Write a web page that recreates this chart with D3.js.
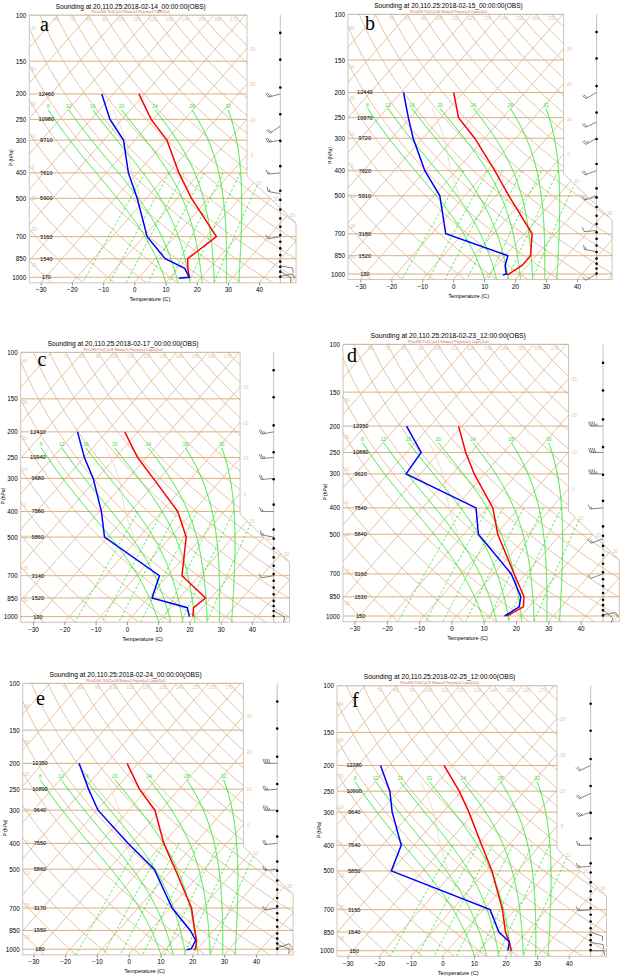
<!DOCTYPE html>
<html>
<head>
<meta charset="utf-8">
<script src="https://cdn.jsdelivr.net/npm/d3@7.9.0/dist/d3.min.js"></script>
<style>
body { margin: 0; background: #fff; }
svg { display: block; font-family: "Liberation Sans", Arial, sans-serif; }
</style>
</head>
<body>
<svg id="chart" width="624" height="979"></svg>
<script>
// ---- data ----
const pLabels = [100, 150, 200, 250, 300, 400, 500, 700, 850, 1000];
const tempTicks = [-30, -20, -10, 0, 10, 20, 30, 40];
const hLevels = [200, 250, 300, 400, 500, 700, 850, 1000];
const thetaW = [8, 12, 16, 20, 24, 28, 32];          // moist adiabats (C)
const mixRatios = [1, 2, 3, 5, 8, 12, 20];            // g/kg
const isoTemps = d3.range(-140, 60, 10);
const dryThetas = d3.range(-40, 210, 10);
const dotLevels = [117, 148, 189, 239, 302, 377, 468, 507, 552, 597, 642, 690, 732, 776, 823, 872, 912, 952, 995];
// faint light curve seen at the same place in every panel
const faintP = [230, 300, 400, 500];
const faintT = [-55.6, -43.0, -31.7, -21.8];

const letters = ['a', 'b', 'c', 'd', 'e', 'f'];
const titles = [
  'Sounding at 20,110.25:2018-02-14_00:00:00(OBS)',
  'Sounding at 20,110.25:2018-02-15_00:00:00(OBS)',
  'Sounding at 20,110.25:2018-02-17_00:00:00(OBS)',
  'Sounding at 20,110.25:2018-02-23_12:00:00(OBS)',
  'Sounding at 20,110.25:2018-02-24_00:00:00(OBS)',
  'Sounding at 20,110.25:2018-02-25_12:00:00(OBS)'
];
const subtitles = [
  'Plcl=1000 Tlcl(C)=13 Show=14 Pw(cm)=3 Cape(J)=0',
  'Plcl=990 Tlcl(C)=16 Show=3 Pw(cm)=3 Cape(J)=0',
  'Plcl=980 Tlcl(C)=18 Show=11 Pw(cm)=3 Cape(J)=0',
  'Plcl=985 Tlcl(C)=14 Show=1 Pw(cm)=5 Cape(J)=0',
  'Plcl=1000 Tlcl(C)=18 Show=2 Pw(cm)=4 Cape(J)=0',
  'Plcl=985 Tlcl(C)=19 Show=4 Pw(cm)=4 Cape(J)=0'
];

const heightsA = [12460, 10980, 9710, 7610, 5900, 3160, 1540, 170];
const heightsB = [12440, 10970, 9720, 7620, 5910, 3180, 1520, 130];
const heightsC = [12410, 10940, 9680, 7580, 5860, 3140, 1520, 130];
const heightsD = [12350, 10880, 9620, 7540, 5840, 3160, 1530, 150];
const heightsE = [12350, 10890, 9640, 7550, 5860, 3170, 1550, 180];
const heightsF = [12380, 10900, 9640, 7540, 5850, 3150, 1540, 150];

const pressA = [200, 250, 300, 400, 500, 700, 850, 925, 1000, 1009];
const tempA  = [-51.8, -40.7, -29.8, -16.7, -5.5, 13.3, 10.3, 13.1, 16.1, 16.4];
const dewA   = [-63.7, -53.9, -43.7, -32.9, -22.9, -8.9, 3.1, 12.1, 16.0, 13.0];

const pressB = [200, 250, 300, 400, 500, 700, 850, 925, 1000, 1008];
const tempB  = [-53.0, -44.3, -33.2, -17.5, -5.8, 12.5, 18.2, 18.3, 16.4, 16.0];
const dewB   = [-69.2, -60.5, -53.1, -40.1, -28.1, -15.4, 10.9, 12.7, 15.6, 14.8];

const pressC = [200, 250, 300, 400, 500, 700, 850, 925, 1000];
const tempC  = [-54.2, -42.9, -32.0, -14.9, -5.0, 4.5, 18.3, 17.2, 19.5];
const dewC   = [-69.3, -59.9, -51.2, -39.3, -31.1, -2.7, 1.2, 15.2, 18.4];

const pressD = [200, 250, 300, 400, 500, 700, 850, 925, 1000];
const tempD  = [-51.1, -41.7, -33.2, -18.2, -9.5, 6.4, 15.7, 18.2, 15.6];
const dewD   = [-67.2, -55.5, -54.3, -23.4, -15.5, 5.5, 14.7, 16.9, 14.9];

const pressE = [200, 250, 300, 400, 500, 700, 850, 925, 995, 1005];
const tempE  = [-53.5, -42.5, -31.8, -19.8, -9.1, 6.8, 14.0, 17.3, 19.3, 19.0];
const dewE   = [-68.6, -58.5, -49.7, -31.0, -15.7, 0.7, 12.6, 17.0, 18.0, 16.9];

const pressF = [200, 250, 300, 400, 500, 700, 850, 925, 1000];
const tempF  = [-52.7, -40.7, -31.8, -18.5, -8.1, 6.0, 13.2, 17.1, 20.3];
const dewF   = [-72.8, -62.7, -56.1, -44.0, -40.0, 2.1, 11.1, 17.1, 19.2];

const windPA = [200, 265, 300, 400, 480, 700, 905, 950, 990];
const windDA = [255, 235, 260, 265, 280, 260, 100, 120, 80];
const windSA = [25, 20, 25, 15, 15, 15, 10, 10, 10];
const windPB = [200, 260, 300, 400, 500, 680, 820, 1000];
const windDB = [240, 245, 240, 250, 250, 265, 280, 240];
const windSB = [20, 20, 25, 20, 15, 10, 15, 10];
const windPC = [200, 250, 300, 400, 500, 700, 950];
const windDC = [260, 265, 265, 270, 280, 260, 120];
const windSC = [25, 25, 20, 15, 15, 10, 10];
const windPD = [200, 250, 300, 400, 520, 700, 950, 990];
const windDD = [270, 270, 270, 265, 250, 250, 130, 80];
const windSD = [45, 40, 45, 15, 15, 10, 10, 10];
const windPE = [200, 250, 300, 400, 500, 700, 960, 990];
const windDE = [270, 265, 270, 265, 265, 260, 110, 70];
const windSE = [40, 25, 35, 20, 15, 15, 10, 10];
const windPF = [200, 255, 300, 400, 480, 700, 850, 930, 1000];
const windDF = [245, 245, 250, 270, 265, 265, 110, 100, 90];
const windSF = [20, 20, 25, 15, 15, 15, 10, 10, 10];

// ---- panel placement (pixels) ----
const layout = [
  {left: 29.3, top: 15.0, k: 113.9, xm30: 40.7, ppd: 3.12, lx: 40, ly: 31},
  {left: 348.0, top: 14.3, k: 112.8, xm30: 360.3, ppd: 3.096, lx: 365, ly: 30},
  {left: 20.7, top: 352.3, k: 114.8, xm30: 33.0, ppd: 3.13, lx: 37.5, ly: 365.7},
  {left: 343.0, top: 344.3, k: 118.0, xm30: 354.5, ppd: 3.23, lx: 347, ly: 361.7},
  {left: 22.7, top: 683.3, k: 115.5, xm30: 33.3, ppd: 3.18, lx: 36, ly: 705},
  {left: 337.0, top: 685.7, k: 115.1, xm30: 347.7, ppd: 3.157, lx: 352, ly: 706.7}
];

const panels = [
  {heights: heightsA, press: pressA, temp: tempA, dew: dewA, wp: windPA, wd: windDA, ws: windSA},
  {heights: heightsB, press: pressB, temp: tempB, dew: dewB, wp: windPB, wd: windDB, ws: windSB},
  {heights: heightsC, press: pressC, temp: tempC, dew: dewC, wp: windPC, wd: windDC, ws: windSC},
  {heights: heightsD, press: pressD, temp: tempD, dew: dewD, wp: windPD, wd: windDD, ws: windSD},
  {heights: heightsE, press: pressE, temp: tempE, dew: dewE, wp: windPE, wd: windDE, ws: windSE},
  {heights: heightsF, press: pressF, temp: tempF, dew: dewF, wp: windPF, wd: windDF, ws: windSF}
];

const SKEW = 0.88;
const TAN = '#dcb68e', ISOBAR = '#d9a66f', GREEN = '#2ee62e';

// thermodynamics for the background curves
const Rd = 287.04, Cp = 1005.7, Lv = 2.501e6, EPS = 0.622;
const esat = tc => 6.112 * Math.exp(17.67 * tc / (tc + 243.5));
function dTdp(T, p) {
  const e = esat(T - 273.15), rs = EPS * e / (p - e);
  return (Rd * T + Lv * rs) / (p * (Cp + Lv * Lv * rs * EPS / (Rd * T * T)));
}
function moistCurve(thw) {
  const walk = (pEnd, dp) => {
    let T = thw + 273.15, p = 1000;
    const out = [];
    while ((dp < 0 && p > pEnd) || (dp > 0 && p < pEnd)) {
      const k1 = dTdp(T, p), k2 = dTdp(T + k1 * dp, p + dp);
      T += 0.5 * (k1 + k2) * dp; p += dp;
      out.push([T - 273.15, p]);
    }
    return out;
  };
  return walk(1050, 2).reverse().concat([[thw, 1000]], walk(230, -2));
}
const logP = (a, b, n) => d3.range(n + 1).map(i => a * Math.pow(b / a, i / n));

const svg = d3.select('#chart');

layout.forEach((L, i) => {
  const P = panels[i];
  const sc = L.k / 113.9;
  const yBot = L.top + L.k * Math.log(10.5);
  const y = d3.scaleLog().domain([100, 1050]).range([L.top, yBot]);
  const x = d3.scaleLinear().domain([-30, 40]).range([L.xm30, L.xm30 + 70 * L.ppd]);
  const X = (t, p) => x(t) + SKEW * (yBot - y(p));
  const line = d3.line().x(d => X(d[0], d[1])).y(d => y(d[1]));

  const left = L.left, r1 = left + 217.7 * sc, r2 = left + 266.7 * sc;
  const yd1 = y(411), yd2 = y(621);
  const poly = [[left, L.top], [r1, L.top], [r1, yd1], [r2, yd2], [r2, yBot], [left, yBot]];
  const xRight = yy => yy <= yd1 ? r1 : (yy >= yd2 ? r2 : r1 + (r2 - r1) * (yy - yd1) / (yd2 - yd1));
  // keep small labels off the panel letter
  const nearLetter = (px, py) => px > L.lx - 6 && px < L.lx + 16 && py > L.ly - 18 && py < L.ly + 6;

  const g = svg.append('g');
  g.append('clipPath').attr('id', 'clip' + i)
    .append('path').attr('d', 'M' + poly.join('L') + 'Z');
  const bg = g.append('g').attr('clip-path', `url(#clip${i})`);

  // isobars
  bg.selectAll('.isobar').data(pLabels).join('line')
    .attr('x1', left).attr('x2', r2)
    .attr('y1', d => y(d)).attr('y2', d => y(d))
    .attr('stroke', ISOBAR).attr('stroke-width', 0.9);

  // isotherms
  bg.selectAll('.iso').data(isoTemps).join('path')
    .attr('d', t => line([[t, 100], [t, 1050]]))
    .attr('fill', 'none').attr('stroke', TAN).attr('stroke-width', 0.8);

  // dry adiabats
  const pGrid = logP(100, 1050, 60);
  const dryPts = th => pGrid.map(p => [(th + 273.15) * Math.pow(p / 1000, 0.2857) - 273.15, p]);
  bg.selectAll('.dry').data(dryThetas).join('path')
    .attr('d', th => line(dryPts(th)))
    .attr('fill', 'none').attr('stroke', TAN).attr('stroke-width', 0.8);

  // mixing ratio lines
  const mixPts = w => logP(400, 1050, 30).map(p => {
    const e = w * p / (622 + w), a = Math.log(e / 6.112);
    return [243.5 * a / (17.67 - a), p];
  });
  bg.selectAll('.mix').data(mixRatios).join('path')
    .attr('d', w => line(mixPts(w)))
    .attr('fill', 'none').attr('stroke', GREEN).attr('stroke-width', 0.8)
    .attr('stroke-dasharray', '2.5,2');

  // moist adiabats
  bg.selectAll('.moist').data(thetaW).join('path')
    .attr('d', t => line(moistCurve(t)))
    .attr('fill', 'none').attr('stroke', GREEN).attr('stroke-width', 1);

  // faint light curve
  bg.append('path').attr('d', d3.line().curve(d3.curveMonotoneY)
      .x((d, j) => X(faintT[j], d)).y(d => y(d))(faintP))
    .attr('fill', 'none').attr('stroke', '#ead3c6').attr('stroke-width', 0.8);

  // small background labels
  const lab = g.append('g').attr('font-size', 4.6).attr('fill', '#e2c6a6').attr('text-anchor', 'middle');
  dryThetas.forEach(th => {
    const top = X(dryPts(th)[0][0], 100);
    if (top > left + 4 && top < r1 - 4) {
      if (!nearLetter(top, L.top + 6)) lab.append('text').attr('x', top).attr('y', L.top + 6).text(th);
    } else if (top <= left) {
      for (let j = 1; j < pGrid.length; j++) {
        const p = pGrid[j], t = dryPts(th)[j][0];
        if (X(t, p) >= left) {
          if (y(p) < yBot - 8 && !nearLetter(left + 4, y(p))) {
            lab.append('text').attr('x', left + 4).attr('y', y(p) + 2).text(th);
          }
          break;
        }
      }
    }
  });
  isoTemps.forEach(t => {
    let prev = null;
    for (let yy = L.top; yy <= yBot; yy += 0.5) {
      const p = y.invert(yy), f = X(t, p) - xRight(yy);
      if (prev !== null && prev > 0 && f <= 0) {
        if (t >= -30 && t <= 30) lab.append('text').attr('x', xRight(yy) + 5).attr('y', yy + 2).text(t);
        break;
      }
      prev = f;
    }
  });
  const gl = g.append('g').attr('font-size', 5).attr('fill', GREEN).attr('text-anchor', 'middle');
  thetaW.forEach(t => {
    const c = moistCurve(t), last = c[c.length - 1];
    gl.append('text').attr('x', X(last[0], last[1])).attr('y', y(last[1]) - 1.5).text(t);
  });

  // frame
  g.append('path').attr('d', 'M' + poly.join('L') + 'Z')
    .attr('fill', 'none').attr('stroke', '#b9aca0').attr('stroke-width', 0.7);

  // sounding
  const tPts = P.press.map((p, j) => [P.temp[j], p]);
  const dPts = P.press.map((p, j) => [P.dew[j], p]);
  g.append('path').attr('d', line(tPts)).attr('fill', 'none')
    .attr('stroke', '#ff0000').attr('stroke-width', 1.5).attr('clip-path', `url(#clip${i})`);
  g.append('path').attr('d', line(dPts)).attr('fill', 'none')
    .attr('stroke', '#0000ff').attr('stroke-width', 1.5).attr('clip-path', `url(#clip${i})`);

  // geopotential heights
  g.append('g').selectAll('text').data(hLevels).join('text')
    .attr('x', left + 17 * sc).attr('y', d => y(d) + 2)
    .attr('text-anchor', 'middle').attr('font-size', 5.6).attr('fill', '#000')
    .text((d, j) => P.heights[j]);

  // axes
  const ax = g.append('g').attr('transform', `translate(0,${yBot})`)
    .call(d3.axisBottom(x).tickValues(tempTicks).tickSize(3).tickPadding(2));
  ax.select('.domain').remove();
  ax.selectAll('text').attr('font-size', 6.3).attr('font-family', '"Liberation Sans", Arial, sans-serif');
  ax.selectAll('line').attr('stroke', '#555').attr('stroke-width', 0.6);
  g.append('text').attr('x', x(5)).attr('y', yBot + 18.5)
    .attr('text-anchor', 'middle').attr('font-size', 5.6).text('Temperature (C)');

  const ay = g.append('g').attr('transform', `translate(${left},0)`)
    .call(d3.axisLeft(y).tickValues(pLabels).tickSize(0).tickPadding(3).tickFormat(d3.format('d')));
  ay.select('.domain').remove();
  ay.selectAll('text').attr('font-size', 6.3).attr('font-family', '"Liberation Sans", Arial, sans-serif');
  g.append('text').attr('transform', `translate(${left - 16},${y(350)}) rotate(-90)`)
    .attr('text-anchor', 'middle').attr('font-size', 5).text('P (hPa)');

  // titles
  const cx = left + 101.5 * sc;
  g.append('text').attr('x', cx).attr('y', L.top - 6.5).attr('text-anchor', 'middle')
    .attr('font-size', 7).attr('textLength', 150 * sc).attr('lengthAdjust', 'spacingAndGlyphs')
    .text(titles[i]);
  g.append('text').attr('x', cx).attr('y', L.top - 1.6).attr('text-anchor', 'middle')
    .attr('font-size', 3.4).attr('fill', '#c8684f').attr('textLength', 78 * sc)
    .attr('lengthAdjust', 'spacingAndGlyphs').text(subtitles[i]);
  g.append('text').attr('x', L.lx).attr('y', L.ly)
    .attr('font-family', '"Liberation Serif", "Times New Roman", serif').attr('font-size', 20)
    .text(letters[i]);

  // wind column
  const xw = left + 251 * sc;
  g.append('line').attr('x1', xw).attr('x2', xw).attr('y1', L.top).attr('y2', yBot)
    .attr('stroke', '#999').attr('stroke-width', 0.6);
  g.append('g').selectAll('circle').data(dotLevels).join('circle')
    .attr('cx', xw).attr('cy', d => y(d)).attr('r', 1.3).attr('fill', '#000');

  const barbs = g.append('g').attr('stroke', '#333').attr('stroke-width', 0.6).attr('fill', 'none');
  P.wp.forEach((p, j) => {
    const a = P.wd[j] * Math.PI / 180, len = 12.5 * sc;
    const ux = Math.sin(a), uy = -Math.cos(a);
    const x0 = xw, y0 = y(p), x1 = x0 + ux * len, y1 = y0 + uy * len;
    let d = `M${x0},${y0}L${x1},${y1}`;
    let spd = P.ws[j], pos = 0;
    const fx = -uy, fy = ux;
    while (spd >= 10) {
      const bx = x1 - ux * pos, by = y1 - uy * pos;
      d += `M${bx},${by}l${fx * 4.5 + ux * 1.5},${fy * 4.5 + uy * 1.5}`;
      spd -= 10; pos += 1.8;
    }
    if (spd >= 5) {
      const off = pos === 0 ? 1.8 : pos;
      const bx = x1 - ux * off, by = y1 - uy * off;
      d += `M${bx},${by}l${fx * 2.4 + ux * 0.8},${fy * 2.4 + uy * 0.8}`;
    }
    barbs.append('path').attr('d', d);
  });
});
</script>
</body>
</html>
